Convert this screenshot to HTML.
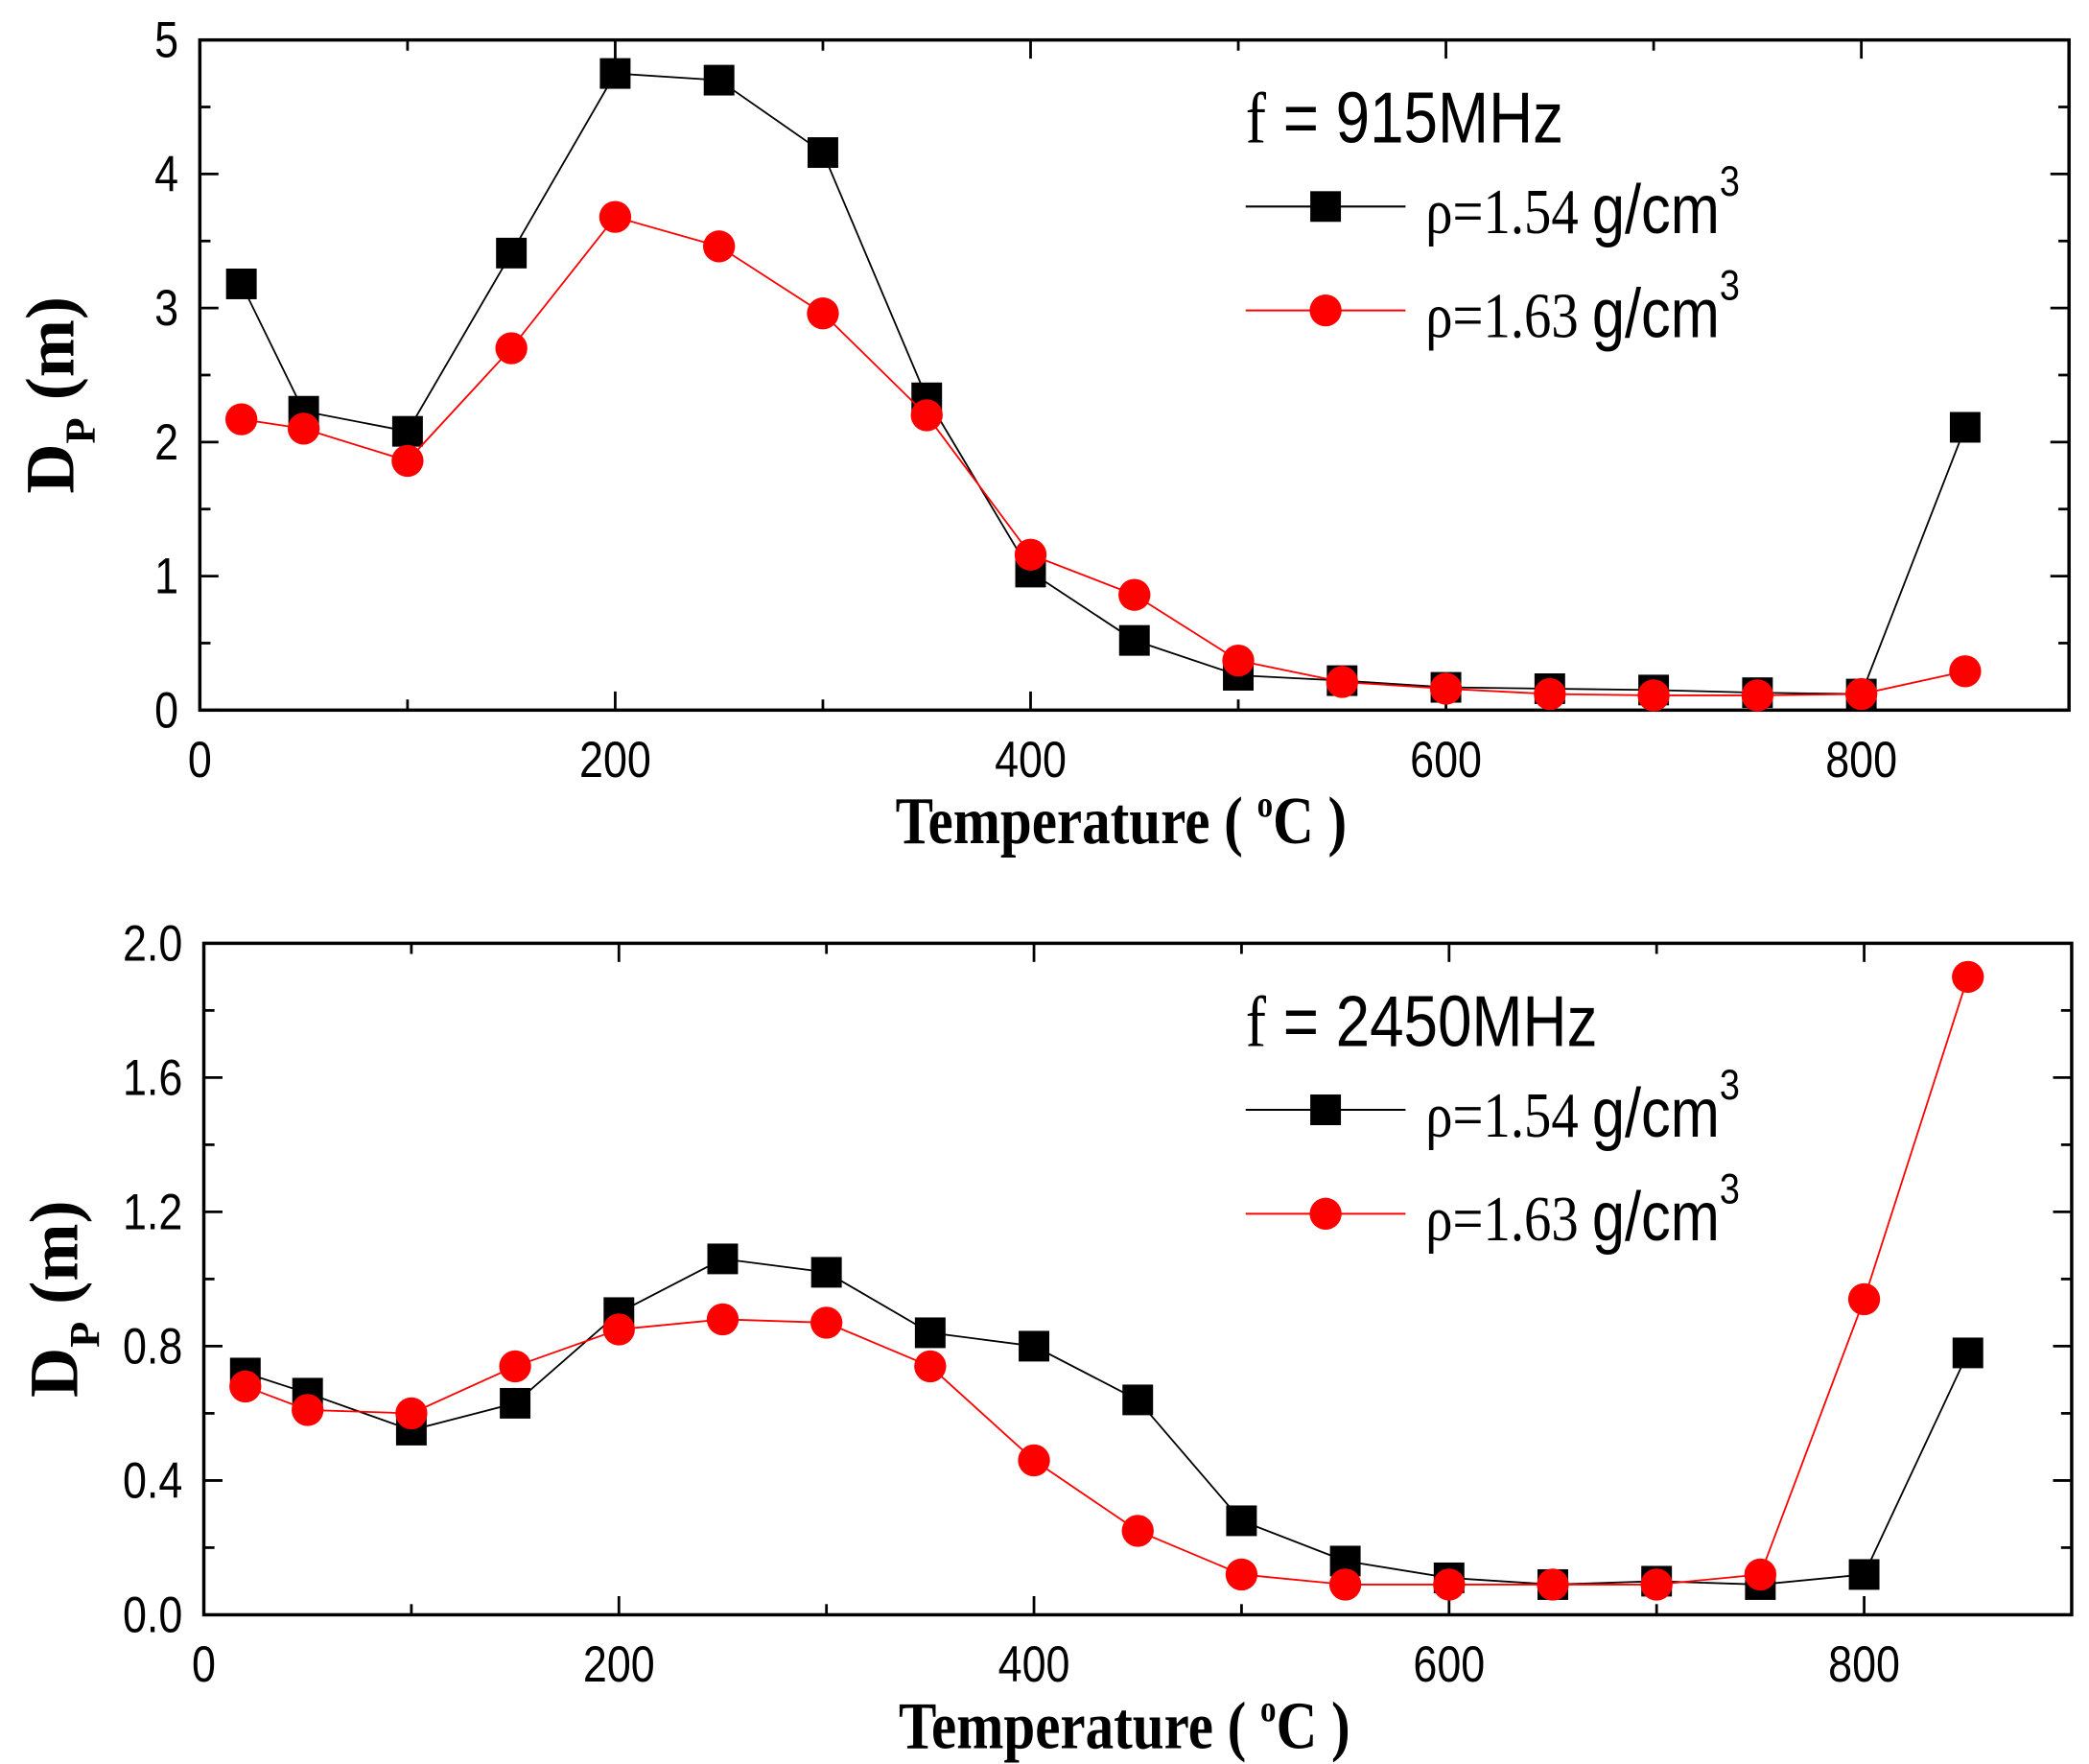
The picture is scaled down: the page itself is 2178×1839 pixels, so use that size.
<!DOCTYPE html>
<html><head><meta charset="utf-8"><style>
html,body{margin:0;padding:0;background:#fff;}
svg{display:block;}
</style></head><body>
<svg id="s" width="2178" height="1839" viewBox="0 0 1568 1324" preserveAspectRatio="none" xmlns="http://www.w3.org/2000/svg"></svg>
<script>
const NS="http://www.w3.org/2000/svg";
const s=document.getElementById('s');
function el(t,a,txt){const e=document.createElementNS(NS,t);for(const k in a)e.setAttribute(k,a[k]);if(txt!==undefined)e.textContent=txt;s.appendChild(e);return e;}
function tx(x,y,sxs,a,html,rot){const e=document.createElementNS(NS,'text');for(const k in a)e.setAttribute(k,a[k]);e.setAttribute('x',0);e.setAttribute('y',0);e.setAttribute('transform',`translate(${x},${y})${rot?' rotate(-90)':''} scale(${sxs},1)`);e.innerHTML=html;s.appendChild(e);return e;}
const X=[20,50,100,150,200,250,300,350,400,450,500,550,600,650,700,750,800,850];
function panel(p){
  const {L,R,T,B,ymax,yt,dec,black,red,f}=p;
  const xs=(R-L)/900;
  const sx=v=>L+v*xs, sy=v=>B-(v/ymax)*(B-T);
  el('rect',{x:L,y:T,width:R-L,height:B-T,fill:'none',stroke:'#000','stroke-width':2.5});
  for(let v=0;v<=900;v+=100){
    const x=sx(v), major=v%200==0, len=major?14:8;
    el('line',{x1:x,y1:B,x2:x,y2:B-len,stroke:'#000','stroke-width':2});
    el('line',{x1:x,y1:T,x2:x,y2:T+len,stroke:'#000','stroke-width':2});
    if(major&&v<=800) tx(x,B+50,0.85,{'font-family':'Liberation Sans, sans-serif','font-size':38,'text-anchor':'middle'},String(v));
  }
  const n=Math.round(ymax/yt*2);
  for(let i=0;i<=n;i++){
    const v=i*yt/2,y=sy(v),major=i%2==0,len=major?14:8;
    el('line',{x1:L,y1:y,x2:L+len,y2:y,stroke:'#000','stroke-width':2});
    el('line',{x1:R,y1:y,x2:R-len,y2:y,stroke:'#000','stroke-width':2});
    if(major) tx(L-16,y+13,0.85,{'font-family':'Liberation Sans, sans-serif','font-size':38,'text-anchor':'end'},v.toFixed(dec));
  }
  tx((L+R)/2-10,B+100,0.85,{'font-family':'Liberation Serif, serif','font-size':50,'font-weight':'bold','text-anchor':'middle'},
    'Temperature ( <tspan dy="-20" font-size="28">o</tspan><tspan dy="20">C )</tspan>');
  const cy=(T+B)/2+15;
  tx(L-95,cy,1.0,{'font-family':'Liberation Serif, serif','font-size':52,'font-weight':'bold','text-anchor':'middle'},
    'D<tspan dy="16" font-size="32">P</tspan><tspan dy="-16"> (m)</tspan>',true);
  function series(d,col,sq){
    el('polyline',{points:X.map((x,i)=>sx(x)+','+sy(d[i])).join(' '),fill:'none',stroke:col,'stroke-width':1.3});
    X.forEach((x,i)=>{
      if(sq) el('rect',{x:sx(x)-11.5,y:sy(d[i])-11.5,width:23,height:23,fill:col});
      else el('circle',{cx:sx(x),cy:sy(d[i]),r:12,fill:col});
    });
  }
  series(black,'#000',true);
  series(red,'#ff0000',false);
  const ly=T+77;
  tx(935,ly,0.85,{'font-family':'Liberation Sans, sans-serif','font-size':54},f.replace('f ','<tspan font-family="Liberation Serif, serif">f</tspan> '));
  [[ly+48,'#000',true,'1.54'],[ly+126,'#ff0000',false,'1.63']].forEach(([y,c,sq,num])=>{
    el('line',{x1:935,y1:y,x2:1055,y2:y,stroke:c,'stroke-width':1.5});
    if(sq) el('rect',{x:983.5,y:y-11.5,width:23,height:23,fill:c}); else el('circle',{cx:995,cy:y,r:12,fill:c});
    tx(1070,y+20,0.85,{'font-family':'Liberation Serif, serif','font-size':48},
      'ρ='+num+' <tspan font-family="Liberation Sans, sans-serif" font-size="52">g/cm</tspan><tspan dy="-28" font-family="Liberation Sans, sans-serif" font-size="32">3</tspan>');
  });
}
panel({L:150,R:1553,T:30,B:533,ymax:5,yt:1,dec:0,f:'f = 915MHz',
 black:[3.18,2.23,2.08,3.41,4.75,4.70,4.16,2.33,1.03,0.52,0.26,0.22,0.17,0.16,0.15,0.13,0.12,2.11],
 red:[2.17,2.10,1.86,2.70,3.68,3.46,2.96,2.20,1.16,0.86,0.37,0.21,0.16,0.12,0.11,0.11,0.12,0.29]});
panel({L:153,R:1555,T:708,B:1212,ymax:2,yt:0.4,dec:1,f:'f = 2450MHz',
 black:[.72,.66,.55,.63,.90,1.06,1.02,.84,.80,.64,.28,.16,.11,.09,.10,.09,.12,.78],
 red:[.68,.61,.60,.74,.85,.88,.87,.74,.46,.25,.12,.09,.09,.09,.09,.12,.94,1.90]});
</script>
</body></html>
